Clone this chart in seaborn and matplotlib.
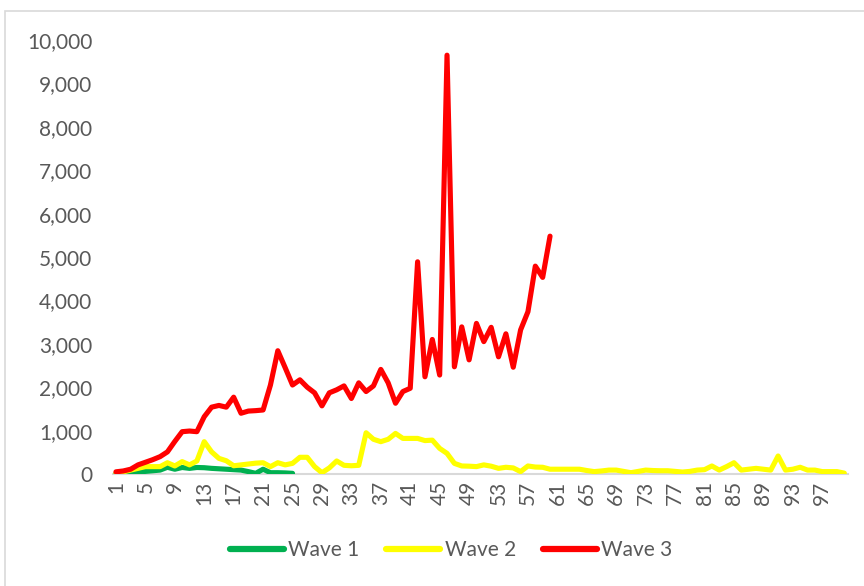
import matplotlib
matplotlib.use("Agg")
import matplotlib.pyplot as plt
import matplotlib.patches as mpatches
from matplotlib.lines import Line2D
from matplotlib.ticker import FuncFormatter
import seaborn as sns
import pandas as pd

wave1 = [10, 20, 35, 50, 60, 75, 90, 155, 110, 150, 130, 150, 145, 130, 120,
         110, 100, 90, 55, 15, 110, 30, 30, 25, 15]
wave2 = [20, 50, 90, 130, 170, 170, 170, 260, 185, 285, 210, 300, 745, 510, 360,
         305, 190, 210, 230, 250, 260, 170, 260, 210, 245, 385, 385, 170, 30, 140,
         300, 200, 190, 200, 950, 800, 745, 800, 935, 820, 820, 820, 770, 780, 590,
         475, 245, 185, 180, 170, 210, 180, 130, 155, 140, 55, 185, 160, 155, 110,
         110, 110, 110, 110, 80, 55, 70, 90, 90, 60, 30, 60, 90, 80, 75,
         75, 60, 45, 60, 90, 100, 185, 90, 170, 260, 90, 110, 130, 110, 90,
         415, 90, 110, 155, 90, 90, 55, 55, 55, 20]
wave3 = [50, 70, 110, 210, 270, 330, 400, 510, 750, 975, 990, 975, 1320, 1540, 1580,
         1540, 1770, 1400, 1450, 1460, 1475, 2050, 2840, 2450, 2050, 2170, 2000, 1870, 1570, 1870,
         1940, 2030, 1740, 2100, 1900, 2030, 2410, 2100, 1630, 1900, 1975, 4890, 2240, 3100, 2280,
         9650, 2470, 3390, 2630, 3470, 3050, 3380, 2700, 3230, 2460, 3320, 3740, 4790, 4530, 5480]
series_names = ["Wave 1", "Wave 2", "Wave 3"]
colors = ["#00B050", "#FFFF00", "#FF0000"]
y_ticks = list(range(0, 10001, 1000))
x_ticks = list(range(1, 101, 4))

rows = []
for name, vals in zip(series_names, [wave1, wave2, wave3]):
    for i, v in enumerate(vals):
        rows.append({"day": i + 1, "cases": v, "wave": name})
df = pd.DataFrame(rows)

sns.set_style("white")
plt.rcParams["font.family"] = ["Lato", "DejaVu Sans"]

fig = plt.figure(figsize=(8.64, 5.86), dpi=100)
ax = fig.add_axes([113 / 864, 1 - 474 / 586, (848 - 113) / 864, (474 - 40) / 586])

# chart-area border (only top and left visible in the crop)
fig.patches.append(mpatches.Rectangle((5 / 864, -0.1), 1.2, 1 - 11 / 586 + 0.1,
                                      transform=fig.transFigure, fill=False,
                                      edgecolor="#d9d9d9", linewidth=1.2, zorder=0))

palette = dict(zip(series_names, colors))
sns.lineplot(data=df, x="day", y="cases", hue="wave", palette=palette, ax=ax,
             linewidth=3.7, legend=False, solid_capstyle="round", solid_joinstyle="round")

ax.set_xlim(0.6, 100.5)
ax.set_ylim(0, 10000)
ax.set_yticks(y_ticks)
ax.yaxis.set_major_formatter(FuncFormatter(lambda v, p: f"{int(v):,}"))
ax.set_xticks(x_ticks)
ax.set_xticklabels([str(t) for t in x_ticks], rotation=90)
ax.tick_params(axis="both", length=0, labelsize=15, colors="#595959")
ax.tick_params(axis="y", pad=15)
ax.tick_params(axis="x", pad=5)
ax.set_xlabel("")
ax.set_ylabel("")
for s in ["top", "right", "left"]:
    ax.spines[s].set_visible(False)
ax.spines["bottom"].set_color("#d9d9d9")
ax.spines["bottom"].set_linewidth(1.5)
ax.spines["bottom"].set_zorder(0)

handles = [Line2D([0], [0], color=c, lw=4.5, solid_capstyle="round") for c in colors]
fig.legend(handles, series_names, loc="center", bbox_to_anchor=(0.522, 1 - 550 / 586),
           ncol=3, frameon=False, fontsize=15, handlelength=2.6, handletextpad=0.2,
           columnspacing=1.3, labelcolor="#595959")

fig.savefig("out.png", dpi=100)
